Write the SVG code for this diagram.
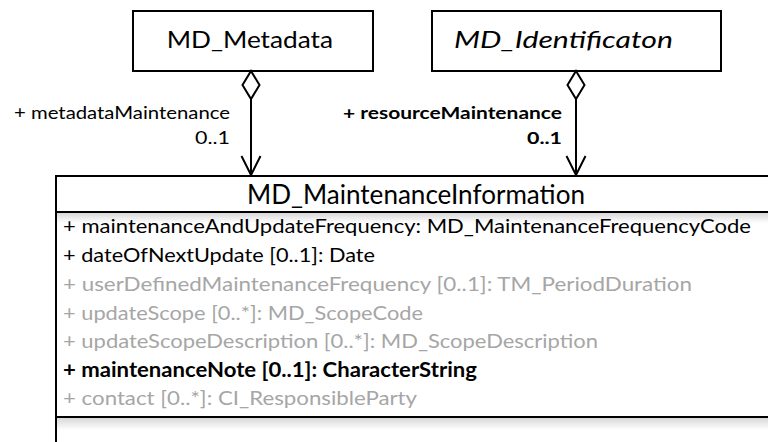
<svg xmlns="http://www.w3.org/2000/svg" width="768" height="442" viewBox="0 0 768 442">
  <style>
    text { font-family: Lato, "Noto Sans", "Liberation Sans", sans-serif; fill: #000; }
    .title { font-size: 24px; }
    .lbl { font-size: 17px; }
    .attr { font-size: 20px; }
    .gray { fill: #a6a6a6; }
    .bold { font-weight: bold; }
    .box { fill: #fff; stroke: #000; stroke-width: 2; }
    .conn { fill: none; stroke: #000; stroke-width: 2; }
  </style>
  <defs>
    <linearGradient id="shadow" x1="0" y1="0" x2="0" y2="1">
      <stop offset="0" stop-color="#d8d8d8"/>
      <stop offset="1" stop-color="#ffffff"/>
    </linearGradient>
  </defs>
  <rect width="768" height="442" fill="#fff"/>

  <g id="MD_Metadata">
    <rect class="box" x="133" y="11" width="240" height="60"/>
    <text class="title" x="166.7" y="48" textLength="166.3" lengthAdjust="spacingAndGlyphs">MD_Metadata</text>
  </g>

  <g id="MD_Identificaton">
    <rect class="box" x="432" y="11" width="289" height="60"/>
    <text class="title" x="454" y="48" font-style="italic" textLength="219" lengthAdjust="spacingAndGlyphs">MD_Identificaton</text>
  </g>

  <g id="MD_MaintenanceInformation">
    <rect class="box" x="56" y="176" width="740" height="290"/>
    <rect x="57" y="213" width="711" height="10" fill="url(#shadow)"/>
    <rect x="57" y="418" width="711" height="12" fill="url(#shadow)"/>
    <line x1="56" y1="212" x2="768" y2="212" stroke="#000" stroke-width="2"/>
    <line x1="56" y1="417" x2="768" y2="417" stroke="#000" stroke-width="2"/>
    <text x="247" y="204" font-size="26" textLength="338" lengthAdjust="spacingAndGlyphs">MD_MaintenanceInformation</text>
    <text class="attr" x="63" y="233" textLength="688" lengthAdjust="spacingAndGlyphs">+ maintenanceAndUpdateFrequency: MD_MaintenanceFrequencyCode</text>
    <text class="attr" x="63" y="262" textLength="312" lengthAdjust="spacingAndGlyphs">+ dateOfNextUpdate [0..1]: Date</text>
    <text class="attr gray" x="63" y="291" textLength="629" lengthAdjust="spacingAndGlyphs">+ userDefinedMaintenanceFrequency [0..1]: TM_PeriodDuration</text>
    <text class="attr gray" x="63" y="320" textLength="360" lengthAdjust="spacingAndGlyphs">+ updateScope [0..*]: MD_ScopeCode</text>
    <text class="attr gray" x="63" y="348" textLength="535" lengthAdjust="spacingAndGlyphs">+ updateScopeDescription [0..*]: MD_ScopeDescription</text>
    <text class="attr bold" x="63" y="377" textLength="414" lengthAdjust="spacingAndGlyphs">+ maintenanceNote [0..1]: CharacterString</text>
    <text class="attr gray" x="63" y="405" textLength="354" lengthAdjust="spacingAndGlyphs">+ contact [0..*]: CI_ResponsibleParty</text>
  </g>

  <g id="connectors">
    <g id="metadataMaintenance">
      <polygon class="conn" points="251,71 259.5,85 251,99 242.5,85" stroke-linejoin="miter"/>
      <line class="conn" x1="251" y1="99" x2="251" y2="175"/>
      <polyline class="conn" points="241.5,156 251,175 260.5,156"/>
      <text class="lbl" x="14" y="119" textLength="216" lengthAdjust="spacingAndGlyphs">+ metadataMaintenance</text>
      <text class="lbl" x="195" y="144" textLength="35" lengthAdjust="spacingAndGlyphs">0..1</text>
    </g>
    <g id="resourceMaintenance">
      <polygon class="conn" points="576,71 584.5,85 576,99 567.5,85"/>
      <line class="conn" x1="576" y1="99" x2="576" y2="175"/>
      <polyline class="conn" points="566.5,156 576,175 585.5,156"/>
      <text class="lbl bold" x="343" y="119" textLength="219" lengthAdjust="spacingAndGlyphs">+ resourceMaintenance</text>
      <text class="lbl bold" x="527" y="144" textLength="35" lengthAdjust="spacingAndGlyphs">0..1</text>
    </g>
  </g>
</svg>
